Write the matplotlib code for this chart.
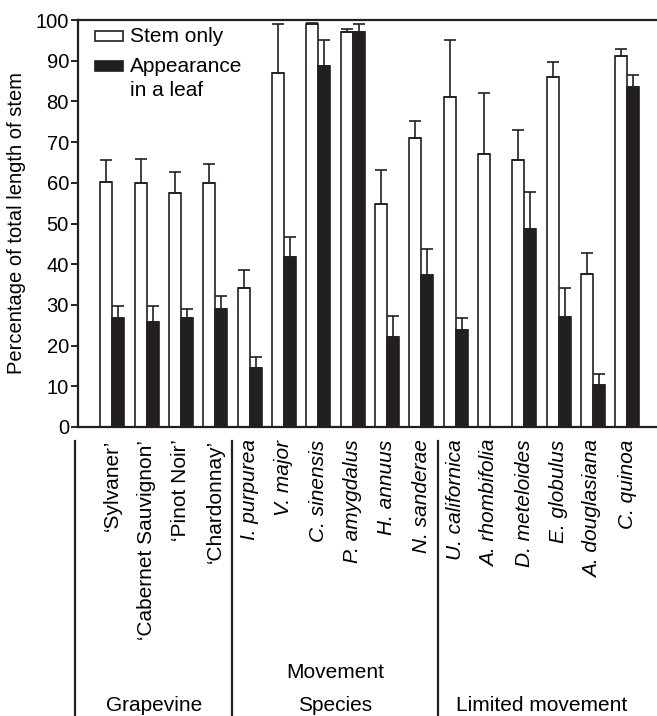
import numpy as np
import matplotlib.pyplot as plt
from matplotlib.patches import Rectangle
from matplotlib.transforms import blended_transform_factory

plt.rcParams['font.family'] = ['Liberation Sans', 'DejaVu Sans']

# categories (first four are grapevine cultivars, rest are species)
categories = ["\u2018Sylvaner\u2019", "\u2018Cabernet Sauvignon\u2019", "\u2018Pinot Noir\u2019",
              "\u2018Chardonnay\u2019", "I. purpurea", "V. major", "C. sinensis",
              "P. amygdalus", "H. annuus", "N. sanderae", "U. californica",
              "A. rhombifolia", "D. meteloides", "E. globulus", "A. douglasiana",
              "C. quinoa"]
italic = [False] * 4 + [True] * 12

stem_only = [60.3, 59.9, 57.6, 60.0, 34.2, 87.1, 99.0, 97.1, 54.8, 71.1,
             81.0, 67.0, 65.6, 86.0, 37.6, 91.2]
stem_only_err = [5.4, 5.9, 5.0, 4.5, 4.4, 11.9, 0.2, 0.8, 8.3, 4.2,
                 14.1, 15.1, 7.3, 3.7, 5.2, 1.7]
leaf = [26.9, 25.9, 26.9, 29.0, 14.4, 41.7, 88.8, 97.0, 22.0, 37.3,
        23.8, np.nan, 48.6, 27.0, 10.2, 83.5]
leaf_err = [2.9, 3.8, 2.1, 3.2, 2.7, 5.1, 6.4, 2.1, 5.3, 6.5,
            3.0, np.nan, 9.1, 7.2, 2.7, 3.1]

groups = ["Grapevine", "Movement\nSpecies", "Limited movement"]
group_sizes = [4, 6, 6]

W, H = 657, 716
fig = plt.figure(figsize=(W / 100, H / 100), dpi=100)
ax = fig.add_axes([78 / W, (H - 427) / H, (W - 78) / W, (427 - 20) / H])

x = np.arange(1, len(categories) + 1)
bw = 0.35
ax.bar(x - bw / 2, stem_only, bw, color='white', edgecolor='#231f20', linewidth=1.2, zorder=2)
ax.bar(x + bw / 2, leaf, bw, color='#231f20', edgecolor='#231f20', linewidth=1.2, zorder=2)
ax.errorbar(x - bw / 2, stem_only, yerr=[np.zeros(len(x)), stem_only_err], fmt='none',
            ecolor='#231f20', elinewidth=1.2, capsize=4.5, capthick=1.2, zorder=3)
ax.errorbar(x + bw / 2, leaf, yerr=[np.zeros(len(x)), leaf_err], fmt='none',
            ecolor='#231f20', elinewidth=1.2, capsize=4.5, capthick=1.2, zorder=3)

ax.set_xlim(0, (W - 78) / 34.33)
ax.set_ylim(0, 100)
ax.set_yticks(range(0, 101, 10))
ax.tick_params(axis='y', direction='out', length=5, width=1.2, labelsize=14.5, pad=1.5)
ax.set_xticks(x, categories, rotation=90, fontsize=15)
ax.tick_params(axis='x', length=0, pad=9)
for lab, it in zip(ax.get_xticklabels(), italic):
    if it:
        lab.set_style('italic')
for s in ['left', 'bottom', 'top']:
    ax.spines[s].set_linewidth(1.6)
    ax.spines[s].set_color('#231f20')
ax.spines['right'].set_visible(False)
ax.set_ylabel("Percentage of total length of stem", fontsize=14.5, labelpad=7)

# legend drawn by hand
ax.add_patch(Rectangle((0.029, 0.948), 0.048, 0.025, transform=ax.transAxes,
                       facecolor='white', edgecolor='#231f20', linewidth=1.2, clip_on=False))
ax.add_patch(Rectangle((0.029, 0.874), 0.048, 0.025, transform=ax.transAxes,
                       facecolor='#231f20', edgecolor='#231f20', linewidth=1.2, clip_on=False))
ax.text(0.0898, 0.960, "Stem only", transform=ax.transAxes, fontsize=15, va='center')
ax.text(0.0898, 0.886, "Appearance", transform=ax.transAxes, fontsize=15, va='center')
ax.text(0.0898, 0.826, "in a leaf", transform=ax.transAxes, fontsize=15, va='center')

# group separators and labels below the axis
tr = blended_transform_factory(ax.transData, fig.transFigure)
bounds = np.concatenate([[0], np.cumsum(group_sizes)]) + 0.5
bounds[0] = -0.08
for b in bounds[:-1]:
    ax.plot([b, b], [0, 1 - 441 / H], transform=tr, color='#231f20', lw=1.6, clip_on=False)
for i, g in enumerate(groups):
    cx = (bounds[i] + bounds[i + 1]) / 2
    lines = g.split("\n")
    for k, line in enumerate(lines):
        base = 711 - (len(lines) - 1 - k) * 33
        ax.text(cx, 1 - base / H, line, transform=tr, ha='center', va='baseline',
                fontsize=15)

fig.savefig('out.png', dpi=100)
